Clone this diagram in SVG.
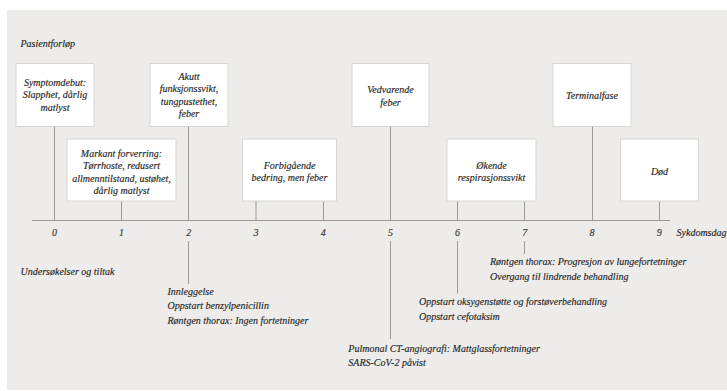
<svg xmlns="http://www.w3.org/2000/svg" width="727" height="391" viewBox="0 0 727 391">
<style>
text{font-family:"Liberation Serif","Times New Roman",serif;font-style:italic;font-size:10px;fill:#262626;stroke:#262626;stroke-width:0.15}
.c{text-anchor:middle}
.box{fill:#fff;stroke:#d6d6d4;stroke-width:1}
.ln{stroke:#9a9a9a;stroke-width:1;fill:none}
.tick{fill:#3a3a3a}
</style>
<rect x="7" y="10" width="720" height="380" fill="#edecea"/>
<text x="20.5" y="46.5">Pasientforløp</text>
<g id="connectors">
<line class="ln" x1="32" y1="220.5" x2="670" y2="220.5"/>
<line class="ln" x1="54.5" y1="126" x2="54.5" y2="220.5"/>
<line class="ln" x1="121.5" y1="201" x2="121.5" y2="220.5"/>
<line class="ln" x1="188.5" y1="126" x2="188.5" y2="220.5"/>
<line class="ln" x1="256" y1="201" x2="256" y2="220.5"/>
<line class="ln" x1="323.5" y1="201" x2="323.5" y2="220.5"/>
<line class="ln" x1="390.5" y1="126" x2="390.5" y2="220.5"/>
<line class="ln" x1="457.5" y1="201" x2="457.5" y2="220.5"/>
<line class="ln" x1="524.5" y1="201" x2="524.5" y2="220.5"/>
<line class="ln" x1="592.5" y1="126" x2="592.5" y2="220.5"/>
<line class="ln" x1="659.5" y1="201" x2="659.5" y2="220.5"/>
<line class="ln" x1="188.5" y1="241" x2="188.5" y2="284"/>
<line class="ln" x1="390.5" y1="241" x2="390.5" y2="339"/>
<line class="ln" x1="457.5" y1="241" x2="457.5" y2="293.5"/>
<line class="ln" x1="524.5" y1="241" x2="524.5" y2="254"/>
</g>
<g id="axis-labels">
<text class="c tick" x="54.5" y="235.5">0</text>
<text class="c tick" x="121.5" y="235.5">1</text>
<text class="c tick" x="188.7" y="235.5">2</text>
<text class="c tick" x="256" y="235.5">3</text>
<text class="c tick" x="323.3" y="235.5">4</text>
<text class="c tick" x="390.4" y="235.5">5</text>
<text class="c tick" x="457.6" y="235.5">6</text>
<text class="c tick" x="524.8" y="235.5">7</text>
<text class="c tick" x="592.1" y="235.5">8</text>
<text class="c tick" x="659.3" y="235.5">9</text>
<text x="676.5" y="235.5">Sykdomsdag</text>
<text x="20.5" y="275">Undersøkelser og tiltak</text>
</g>
<g id="n-day0">
<rect class="box" x="16" y="63.5" width="78" height="63"/>
<text class="c" x="55" y="85.5">Symptomdebut:</text>
<text class="c" x="55" y="98">Slapphet, dårlig</text>
<text class="c" x="55" y="110.5">matlyst</text>
</g>
<g id="n-day1">
<rect class="box" x="67" y="139" width="109" height="62"/>
<text class="c" x="121.5" y="156.5">Markant forverring:</text>
<text class="c" x="121.5" y="169">Tørrhoste, redusert</text>
<text class="c" x="121.5" y="181.5">allmenntilstand, ustøhet,</text>
<text class="c" x="121.5" y="194">dårlig matlyst</text>
</g>
<g id="n-day2">
<rect class="box" x="150" y="63.5" width="78" height="63"/>
<text class="c" x="189" y="79.5">Akutt</text>
<text class="c" x="189" y="92">funksjonssvikt,</text>
<text class="c" x="189" y="104.5">tungpustethet,</text>
<text class="c" x="189" y="117">feber</text>
</g>
<g id="n-day3-4">
<rect class="box" x="242.5" y="139" width="94" height="62"/>
<text class="c" x="289.5" y="168.5">Forbigående</text>
<text class="c" x="289.5" y="181">bedring, men feber</text>
</g>
<g id="n-day5">
<rect class="box" x="352" y="63.5" width="77" height="63"/>
<text class="c" x="390.5" y="93">Vedvarende</text>
<text class="c" x="390.5" y="105.5">feber</text>
</g>
<g id="n-day6-7">
<rect class="box" x="447" y="139" width="89" height="62"/>
<text class="c" x="491.5" y="168.5">Økende</text>
<text class="c" x="491.5" y="181">respirasjonssvikt</text>
</g>
<g id="n-day8">
<rect class="box" x="553" y="63.5" width="78" height="63"/>
<text class="c" x="592" y="99">Terminalfase</text>
</g>
<g id="n-day9">
<rect class="box" x="620.5" y="139" width="78" height="62"/>
<text class="c" x="659.5" y="174.5">Død</text>
</g>
<g id="t-day2">
<text x="167.5" y="294.5">Innleggelse</text>
<text x="167.5" y="309">Oppstart benzylpenicillin</text>
<text x="167.5" y="323.5">Røntgen thorax: Ingen fortetninger</text>
</g>
<g id="t-day5">
<text x="348.3" y="351.7">Pulmonal CT-angiografi: Mattglassfortetninger</text>
<text x="348.3" y="366.3">SARS-CoV-2 påvist</text>
</g>
<g id="t-day6">
<text x="419" y="305">Oppstart oksygenstøtte og forstøverbehandling</text>
<text x="419" y="319.5">Oppstart cefotaksim</text>
</g>
<g id="t-day7">
<text x="490" y="265">Røntgen thorax: Progresjon av lungefortetninger</text>
<text x="490" y="279.5">Overgang til lindrende behandling</text>
</g>
</svg>
